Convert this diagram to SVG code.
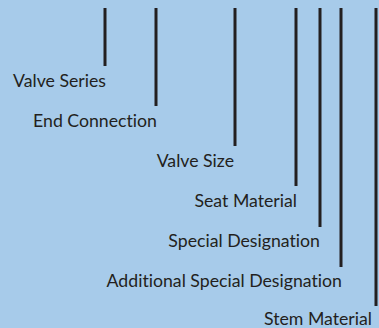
<svg xmlns="http://www.w3.org/2000/svg" width="379" height="328" viewBox="0 0 379 328">
<style>
.lbl{font-family:Lato,"Open Sans","Liberation Sans",sans-serif;font-size:17.7px;fill:#231f20;text-anchor:end;font-variant-ligatures:none}
.ln{stroke:#231f20;stroke-width:3;fill:none}
</style>
<rect width="379" height="328" fill="#a7cbea"/>
<g id="connectors">
<line class="ln" x1="105" y1="8" x2="105" y2="66"/>
<line class="ln" x1="156" y1="8" x2="156" y2="106"/>
<line class="ln" x1="235" y1="8" x2="235" y2="146"/>
<line class="ln" x1="296" y1="8" x2="296" y2="186"/>
<line class="ln" x1="320" y1="8" x2="320" y2="227"/>
<line class="ln" x1="341" y1="8" x2="341" y2="267"/>
<line class="ln" x1="376" y1="8" x2="376" y2="306"/>
</g>
<g id="valve-series"><text class="lbl" x="106" y="87">Valve Series</text></g>
<g id="end-connection"><text class="lbl" x="157" y="127">End Connection</text></g>
<g id="valve-size"><text class="lbl" x="234" y="167">Valve Size</text></g>
<g id="seat-material"><text class="lbl" x="297" y="207">Seat Material</text></g>
<g id="special-designation"><text class="lbl" x="320" y="247">Special Designation</text></g>
<g id="additional-special-designation"><text class="lbl" x="342" y="287">Additional Special Designation</text></g>
<g id="stem-material"><text class="lbl" x="372" y="325">Stem Material</text></g>
</svg>
